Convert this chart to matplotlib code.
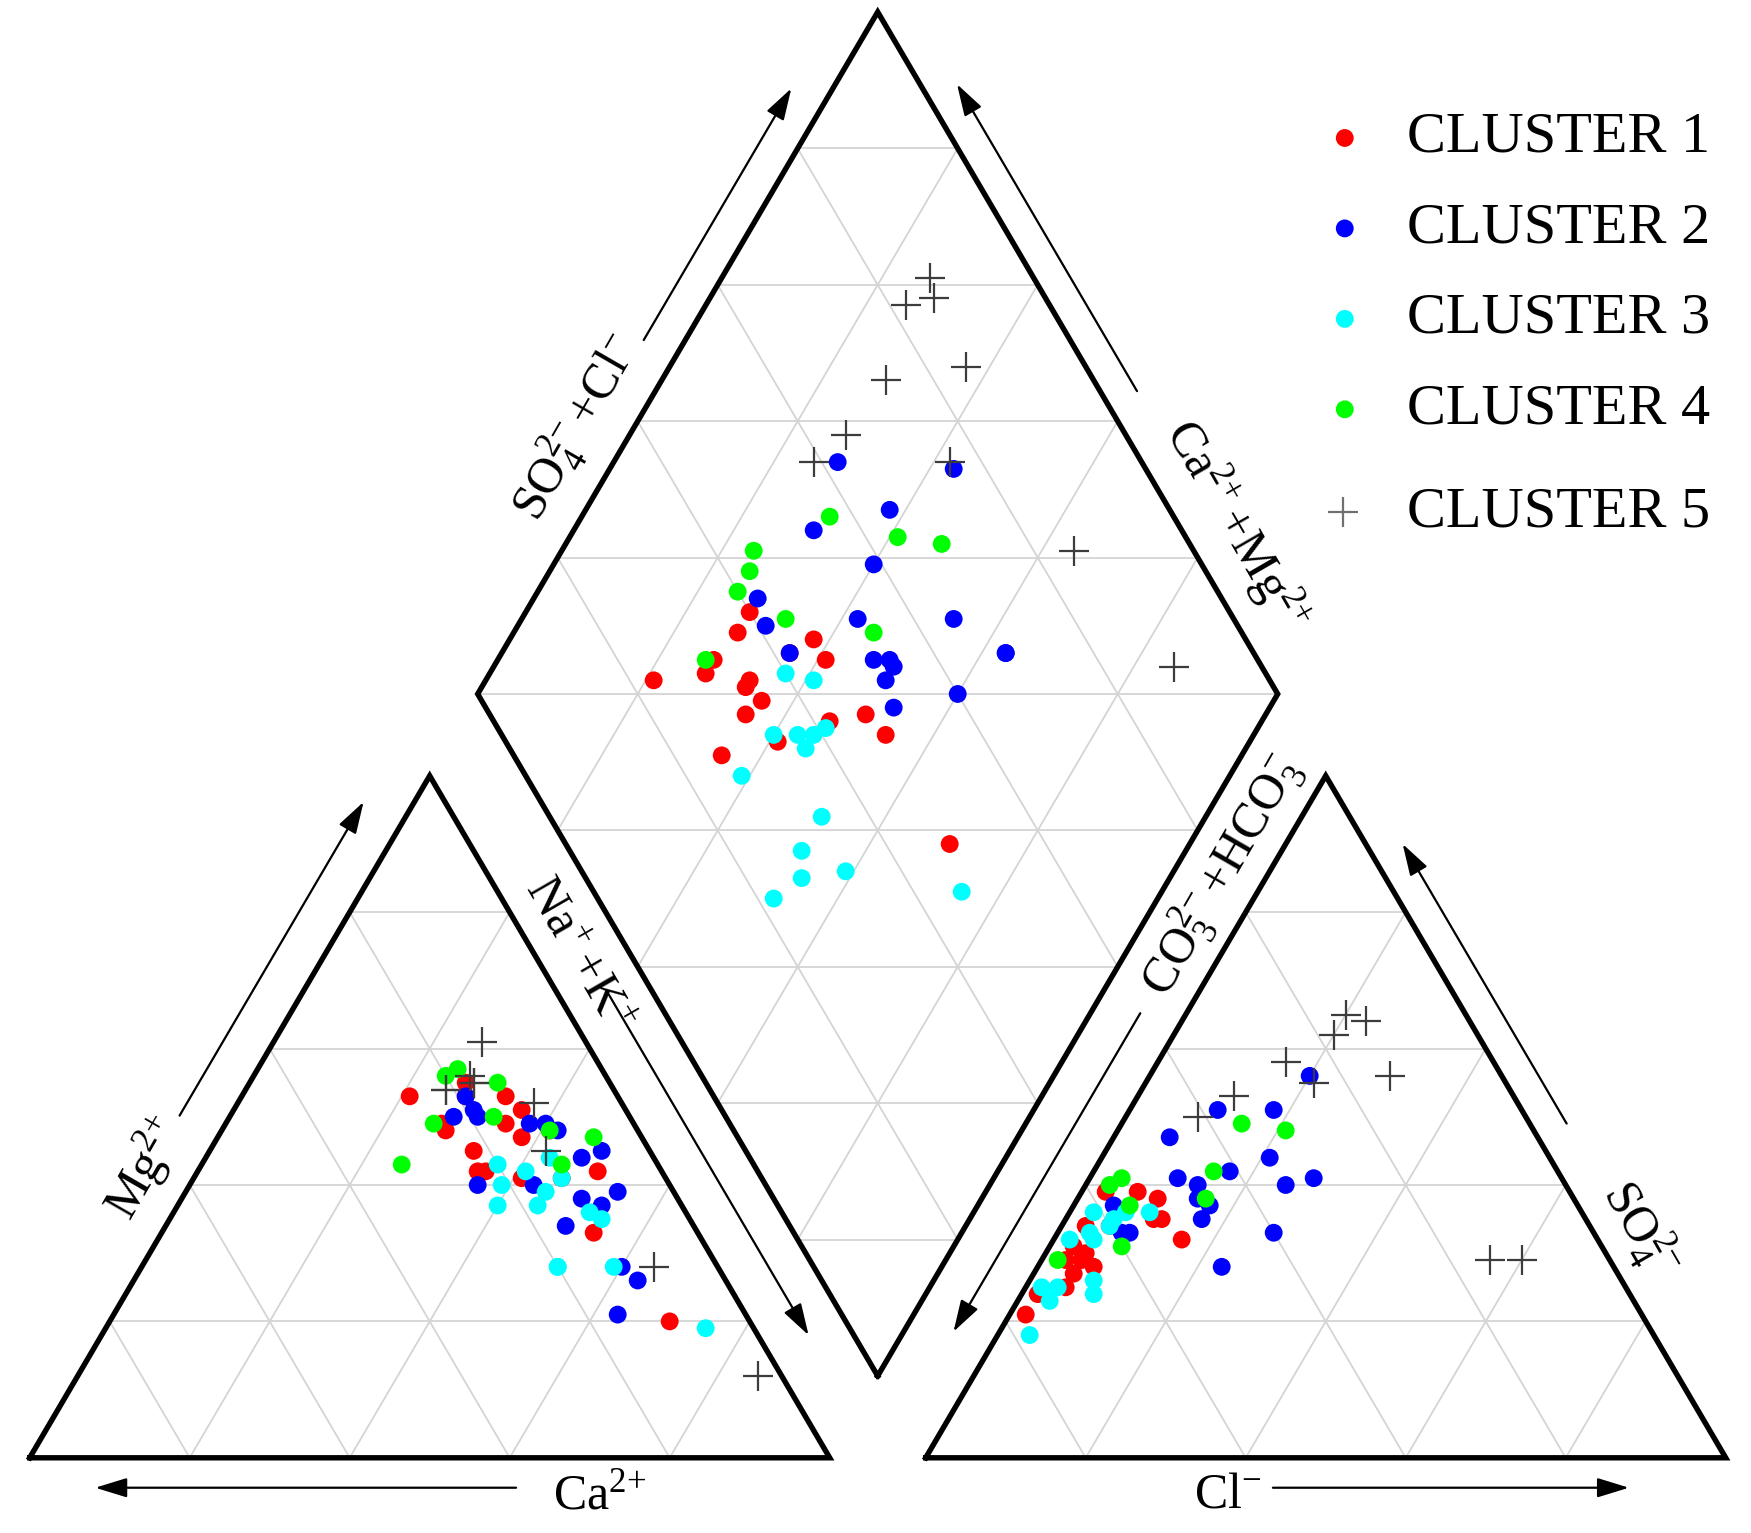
import numpy as np
import matplotlib.pyplot as plt

plt.rcParams['font.family'] = ['Liberation Serif', 'DejaVu Serif']
plt.rcParams['mathtext.fontset'] = 'custom'
plt.rcParams['mathtext.rm'] = 'Liberation Serif'
plt.rcParams['mathtext.it'] = 'Liberation Serif:italic'

# percent meq/L: Mg, Na+K (cations), SO4, Cl (anions); Ca and HCO3 are the rest
c1_mg = [48, 53, 47, 49, 48, 42, 55, 53, 45, 53, 51, 49, 41, 42, 41, 33, 42, 20]
c1_nak = [28, 28, 38, 27, 41, 36, 27, 21, 33, 33, 36, 35, 46, 50, 41, 54, 35, 70]
c1_so4 = [34, 34, 35, 27, 39, 39, 25, 21, 28, 31, 30, 29, 36, 35, 29, 38, 24, 32]
c1_cl = [6, 3, 11, 5, 7, 3, 5, 2, 7, 3, 5, 3, 6, 12, 5, 10, 2, 16]

c2_mg = [53, 40, 49, 51, 49, 50, 50, 48, 39, 40, 26, 44, 45, 38, 34, 28, 37, 21]
c2_nak = [28, 43, 38, 30, 40, 28, 31, 42, 54, 36, 63, 47, 49, 50, 50, 60, 53, 63]
c2_so4 = [51, 56, 44, 47, 42, 33, 33, 38, 40, 37, 51, 35, 40, 37, 41, 33, 28, 41]
c2_cl = [11, 20, 21, 7, 17, 9, 8, 15, 25, 5, 18, 17, 14, 17, 11, 27, 23, 28]

c3_mg = [43, 42, 37, 44, 39, 41, 37, 40, 28, 28, 35, 28, 36, 19]
c3_nak = [37, 41, 40, 43, 45, 46, 45, 39, 52, 52, 54, 59, 52, 75]
c3_so4 = [34, 36, 32, 33, 36, 35, 32, 23, 26, 25, 25, 24, 18, 36]
c3_cl = [6, 7, 2, 4, 3, 6, 5, 4, 8, 4, 2, 9, 4, 10]

c4_mg = [55, 48, 47, 56, 43, 57, 50, 43, 49]
c4_nak = [31, 41, 47, 24, 25, 25, 33, 45, 26]
c4_so4 = [42, 49, 48, 41, 40, 31, 37, 38, 29]
c4_cl = [15, 15, 21, 4, 3, 9, 7, 16, 2]

c5_mg = [61, 55, 54, 55, 52, 56, 54, 45, 28, 12]
c5_nak = [26, 28, 25, 28, 37, 27, 25, 42, 64, 85]
c5_so4 = [64, 56, 62, 58, 65, 53, 50, 55, 29, 29]
c5_cl = [23, 30, 20, 16, 20, 12, 9, 21, 56, 60]

labels = ['CLUSTER 1', 'CLUSTER 2', 'CLUSTER 3', 'CLUSTER 4', 'CLUSTER 5']
colors = ['#ff0000', '#0000ff', '#00ffff', '#00ff00', '#3c3c3c']

H = np.sqrt(3) / 2
GAP = 0.12
GRID = '#d4d4d4'


def cation_xy(mg, nak):
    mg = np.asarray(mg) / 100.0
    nak = np.asarray(nak) / 100.0
    return nak + mg / 2, mg * H


def anion_xy(so4, cl):
    so4 = np.asarray(so4) / 100.0
    cl = np.asarray(cl) / 100.0
    return 1 + GAP + cl + so4 / 2, so4 * H


def diamond_xy(nak, so4, cl):
    c = 1 - np.asarray(nak) / 100.0
    s = (np.asarray(so4) + np.asarray(cl)) / 100.0
    return 1 + GAP / 2 + (s - c) / 2, GAP * H + (c + s) * H


def edge_point(p0, p1, t, off):
    p0 = np.array(p0, float)
    p1 = np.array(p1, float)
    d = p1 - p0
    n = np.array([-d[1], d[0]]) / np.hypot(d[0], d[1])
    return p0 + t * d + off * n


fig = plt.figure(figsize=(17.51, 15.33), dpi=100)
ax = fig.add_axes([0, 0, 1, 1])
ax.set_xlim(-0.0371, 2.1516)
ax.set_ylim(-0.0955, 1.8512)
ax.axis('off')

# triangle corners
A = (0, 0)
B = (1, 0)
C = (0.5, H)
D = (1 + GAP, 0)
E = (2 + GAP, 0)
F = (1.5 + GAP, H)
bot = (1 + GAP / 2, GAP * H)
lft = (0.5 + GAP / 2, (1 + GAP) * H)
rgt = (1.5 + GAP / 2, (1 + GAP) * H)
top = (1 + GAP / 2, (2 + GAP) * H)

steps = [0.2, 0.4, 0.6, 0.8]

# grids of the two triangles
for x0 in [0, 1 + GAP]:
    for k in steps:
        ax.plot([x0 + k / 2, x0 + 1 - k / 2], [k * H, k * H], color=GRID, lw=1.3, zorder=1)
        ax.plot([x0 + k, x0 + k + (1 - k) / 2], [0, (1 - k) * H], color=GRID, lw=1.3, zorder=1)
        ax.plot([x0 + k, x0 + k / 2], [0, k * H], color=GRID, lw=1.3, zorder=1)

# grid of the diamond
bx, by = bot
for k in steps:
    ax.plot([bx - k / 2, bx - k / 2 + 0.5], [by + k * H, by + k * H + H], color=GRID, lw=1.3, zorder=1)
    ax.plot([bx + k / 2, bx + k / 2 - 0.5], [by + k * H, by + k * H + H], color=GRID, lw=1.3, zorder=1)
for m in range(1, 10):
    lv = m * 0.2
    half = lv / 2 if lv <= 1 else (2 - lv) / 2
    ax.plot([bx - half, bx + half], [by + lv * H, by + lv * H], color=GRID, lw=1.3, zorder=1)

# outlines
for poly in [[A, B, C], [D, E, F], [bot, rgt, top, lft]]:
    xs = [p[0] for p in poly] + [poly[0][0]]
    ys = [p[1] for p in poly] + [poly[0][1]]
    ax.plot(xs, ys, color='k', lw=3.9, solid_joinstyle='miter', zorder=2)

# data
groups = [
    (c1_mg, c1_nak, c1_so4, c1_cl),
    (c2_mg, c2_nak, c2_so4, c2_cl),
    (c3_mg, c3_nak, c3_so4, c3_cl),
    (c4_mg, c4_nak, c4_so4, c4_cl),
    (c5_mg, c5_nak, c5_so4, c5_cl),
]
for i, (mg, nak, so4, cl) in enumerate(groups):
    pts = [cation_xy(mg, nak), anion_xy(so4, cl), diamond_xy(nak, so4, cl)]
    for x, y in pts:
        if i < 4:
            ax.scatter(x, y, s=165, color=colors[i], edgecolors='none', zorder=3)
        else:
            ax.scatter(x, y, s=480, marker='+', color=colors[i], linewidths=1.6, zorder=3)

# arrows and axis names
arrow_kw = dict(arrowstyle='-|>,head_length=0.65,head_width=0.2', color='k',
                lw=1.6, mutation_scale=30, shrinkA=0, shrinkB=0)
axes_spec = [
    # edge start, edge end, arrow t0, t1, arrow offset, label t, label offset, text, rotation
    (B, A, 0.392, 0.918, 0.038, 0.287, 0.049, r'$\mathregular{Ca^{2{+}}}$', 0),
    (A, C, 0.47, 0.93, 0.055, 0.39, 0.06, r'$\mathregular{Mg^{2{+}}}$', 60),
    (C, B, 0.352, 0.852, 0.055, 0.29, 0.047, r'$\mathregular{Na^{{+}}\,{+}K^{{+}}}$', -60),
    (lft, top, 0.493, 0.862, 0.045, 0.355, 0.062, r'$\mathregular{SO_4^{2{-}}\,{+}Cl^{{-}}}$', 60),
    (top, rgt, 0.579, 0.129, 0.04, 0.79, 0.062, r'$\mathregular{Ca^{2{+}}\,{+}Mg^{2{+}}}$', -60),
    (D, F, 0.623, 0.156, 0.05, 0.825, 0.05, r'$\mathregular{CO_3^{2{-}}\,{+}HCO_3^{{-}}}$', 60),
    (F, E, 0.533, 0.123, 0.04, 0.695, 0.052, r'$\mathregular{SO_4^{2{-}}}$', -60),
    (E, D, 0.566, 0.121, 0.038, 0.622, 0.047, r'$\mathregular{Cl^{{-}}}$', 0),
]
for p0, p1, t0, t1, aoff, lt, loff, text, rot in axes_spec:
    start = edge_point(p0, p1, t0, aoff)
    end = edge_point(p0, p1, t1, aoff)
    ax.annotate('', xy=end, xytext=start, arrowprops=arrow_kw, zorder=4)
    pos = edge_point(p0, p1, lt, loff)
    ax.text(pos[0], pos[1], text, fontsize=36, rotation=rot, rotation_mode='anchor',
            ha='center', va='center', zorder=5)

# legend
rows = [0.910, 0.851, 0.792, 0.733, 0.666]
for i, lab in enumerate(labels):
    if i < 4:
        ax.scatter([0.768], [rows[i]], s=165, color=colors[i], edgecolors='none',
                   transform=fig.transFigure)
    else:
        ax.scatter([0.767], [rows[i]], s=480, marker='+', color='#707070', linewidths=1.6,
                   transform=fig.transFigure)
    ax.text(0.8035, rows[i], lab, fontsize=42, ha='left', va='center', transform=fig.transFigure)

fig.savefig('out.png', dpi=100)
